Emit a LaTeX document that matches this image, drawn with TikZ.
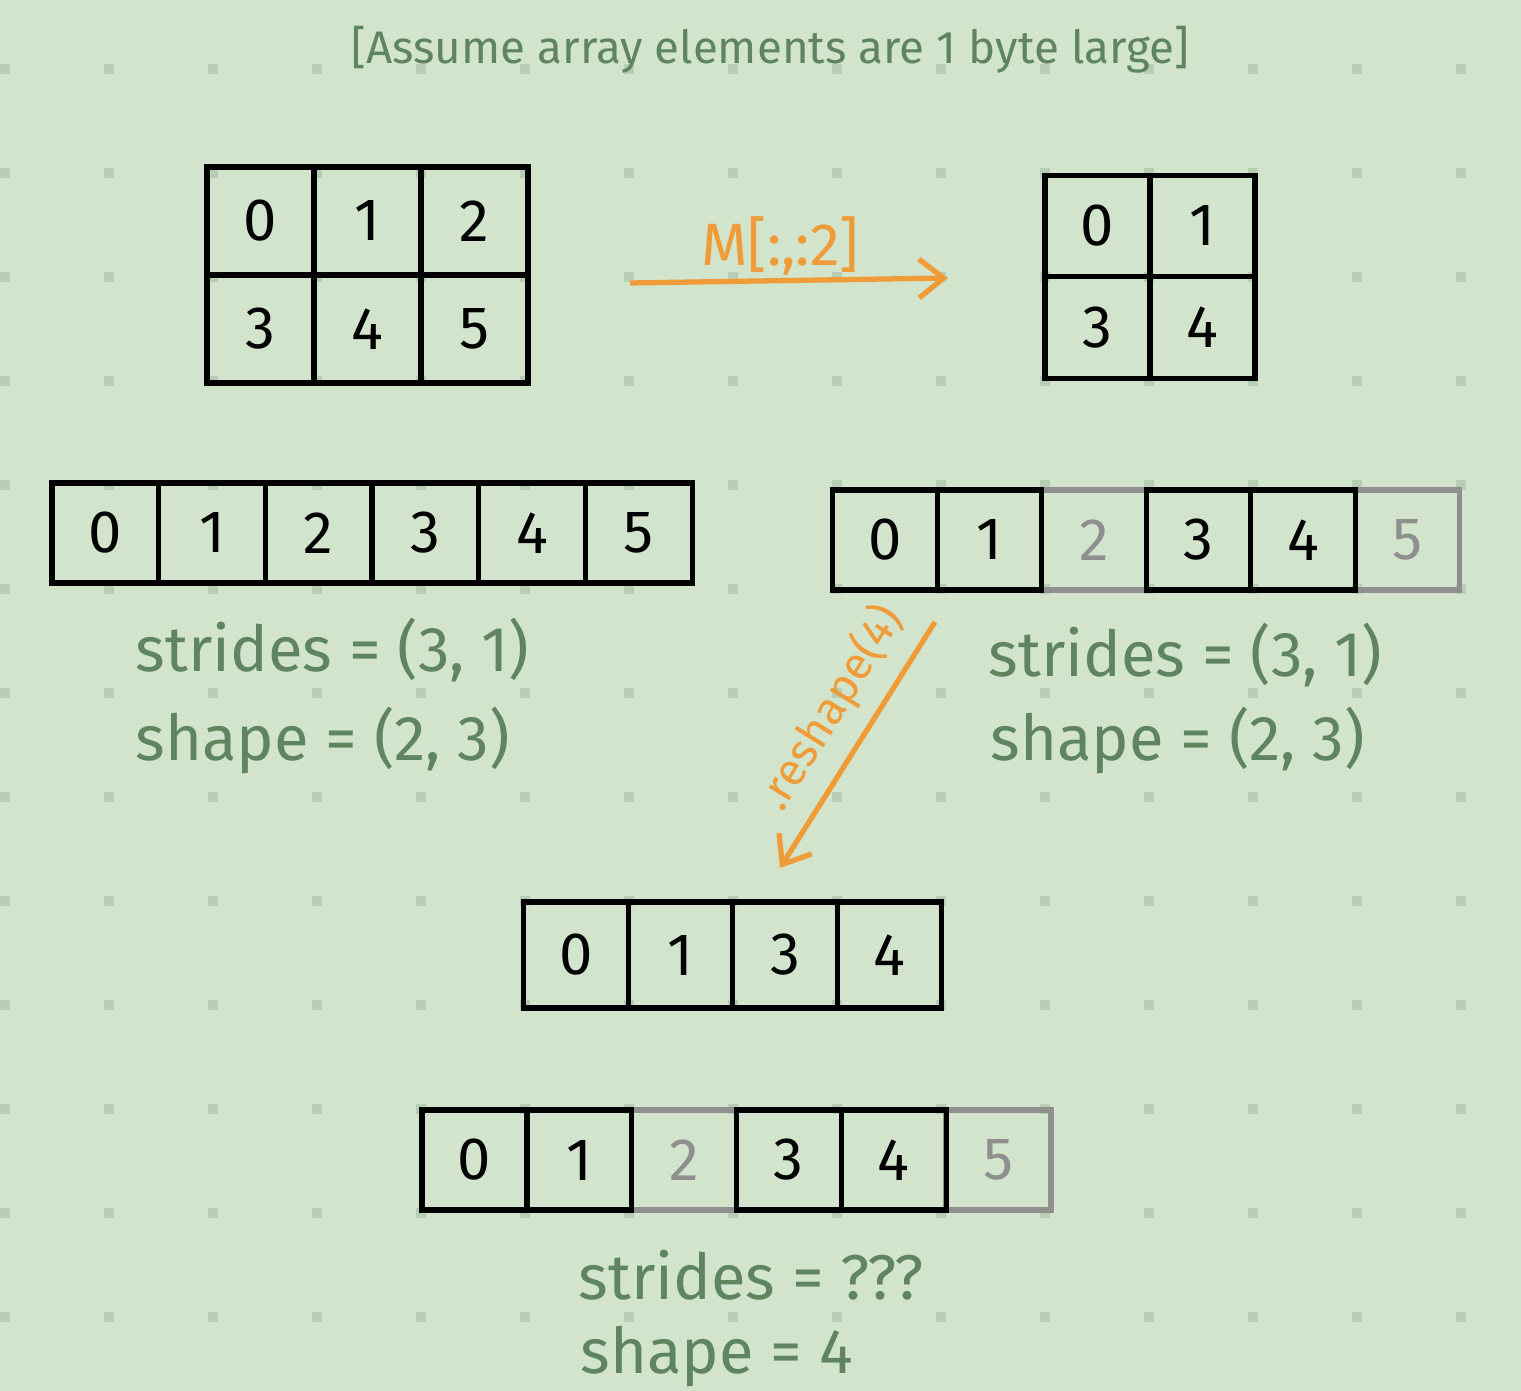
\documentclass[tikz,border=0pt]{standalone}
\usepackage{fontspec}
\setmainfont{Fira Sans}
\usetikzlibrary{arrows.meta}

\definecolor{paper}{HTML}{D3E4CC}
\definecolor{griddot}{HTML}{B6CEB4}
\definecolor{ink}{HTML}{5E8460}
\definecolor{marker}{HTML}{EE9B38}
\definecolor{faded}{HTML}{8F8F8F}

\tikzset{
  cell/.style={draw, line width=1.5pt, minimum width=#1, minimum height=1cm,
    inner sep=0pt, font=\fontsize{17}{20}\selectfont},
  ghost/.style={cell=#1, draw=faded, text=faded},
  note/.style={text=ink, anchor=west, inner sep=0pt, font=\fontsize{18}{21}\selectfont},
  marker arrow/.style={draw=marker, line width=1.5pt, -{Straight Barb[length=7pt, width=11pt]}}
}

\begin{document}
\begin{tikzpicture}[x=0.01cm, y=-0.01cm]

  % Paper and dot grid
  \fill[paper] (0,0) rectangle (1521,1391);
  \useasboundingbox (0,0) rectangle (1521,1391);
  \foreach \i in {0,...,14}
    \foreach \j in {0,...,12}
      \fill[griddot] (104*\i,64+104*\j) rectangle ++(10,10);

  % Title
  \node[text=ink, inner sep=0pt, font=\fontsize{13}{16}\selectfont] (title) at (770,50)
    {[Assume array elements are 1 byte large]};

  % 2x3 matrix
  \foreach \v in {0,...,5} {
    \pgfmathsetmacro\cx{260.5+107*mod(\v,3)}
    \pgfmathsetmacro\cy{221+108*int(\v/3)}
    \node[cell=1.07cm, minimum height=1.08cm] (M\v) at (\cx,\cy) {\v};
  }

  % 2x2 slice
  \foreach \v [count=\k from 0] in {0,1,3,4} {
    \pgfmathsetmacro\cx{1097.5+105*mod(\k,2)}
    \pgfmathsetmacro\cy{226+101.5*int(\k/2)}
    \node[cell=1.05cm, minimum height=1.015cm] (S\v) at (\cx,\cy) {\v};
  }

  % Slice arrow
  \coordinate (sliceS) at (630,283);
  \coordinate (sliceE) at (948,278);
  \draw[marker arrow] (sliceS) -- (sliceE);
  \node[text=marker, font=\fontsize{17}{20}\selectfont] (slice) at (780,246) {M[:,:2]};

  % Memory of the matrix
  \foreach \v in {0,...,5}
    \node[cell=1.067cm] (F\v) at ({105.3+106.7*\v},533) {\v};

  % Memory seen by the slice
  \foreach \v in {2,5}
    \node[ghost=1.045cm] (V\v) at ({885+104.5*\v},540) {\v};
  \foreach \v in {0,1,3,4}
    \node[cell=1.045cm] (V\v) at ({885+104.5*\v},540) {\v};

  % Strides and shapes
  \node[note] (lstr) at (135,650) {strides = (3, 1)};
  \node[note] (lshp) at (135,740) {shape = (2, 3)};
  \node[note] (rstr) at (988,655) {strides = (3, 1)};
  \node[note] (rshp) at (990,740) {shape = (2, 3)};

  % Reshape arrow
  \coordinate (reshS) at (935,622);
  \coordinate (reshE) at (780,868);
  \draw[marker arrow] (reshS) -- (reshE);
  \node[text=marker, rotate=58, font=\fontsize{13}{16}\selectfont] (resh) at (831,708) {.reshape(4)};

  % Reshaped array
  \foreach \v [count=\k from 0] in {0,1,3,4}
    \node[cell=1.045cm, minimum height=1.06cm] (R\v) at ({576+104.5*\k},955) {\v};

  % Its memory
  \foreach \v in {2,5}
    \node[ghost=1.048cm] (B\v) at ({474.5+104.8*\v},1160) {\v};
  \foreach \v in {0,1,3,4}
    \node[cell=1.048cm] (B\v) at ({474.5+104.8*\v},1160) {\v};

  \node[note] (bstr) at (578,1275) {strides = ???};
  \node[note] (bshp) at (580,1357) {shape = 4};

\end{tikzpicture}
\end{document}
